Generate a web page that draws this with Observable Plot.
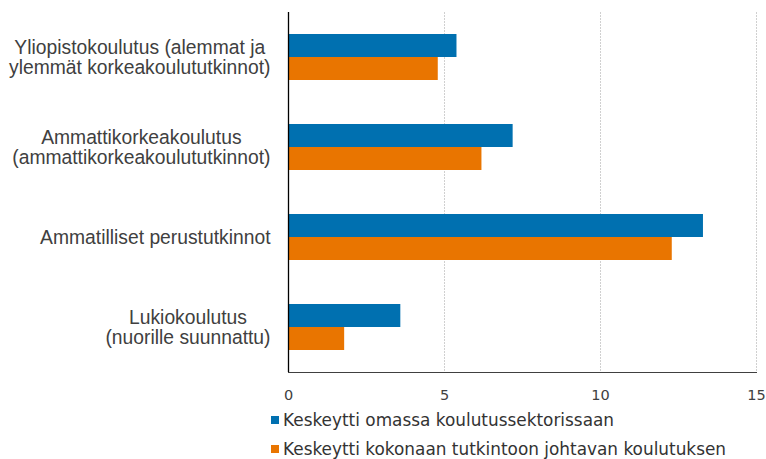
<!DOCTYPE html>
<html>
<head>
<meta charset="utf-8">
<script src="https://cdn.jsdelivr.net/npm/d3@7"></script>
<script src="https://cdn.jsdelivr.net/npm/@observablehq/plot@0.6"></script>
<style>
  body { margin: 0; background: #fff; }
  #chart { width: 766px; }
  .legend { font-family: "DejaVu Sans", sans-serif; font-size: 16.9px; color: #333; padding-left: 271px; }
  .legend div { height: 29px; display: flex; align-items: center; white-space: nowrap; }
  .legend span.sw { display: inline-block; width: 8px; height: 8px; margin-right: 4px; flex: none; }
</style>
</head>
<body>
<div id="chart"></div>
<script>
const categories = [
  "Yliopistokoulutus (alemmat ja ylemmät korkeakoulututkinnot)",
  "Ammattikorkeakoulutus (ammattikorkeakoulututkinnot)",
  "Ammatilliset perustutkinnot",
  "Lukiokoulutus (nuorille suunnattu)"
];
const categoryLabels = [
  "Yliopistokoulutus (alemmat ja\nylemmät korkeakoulututkinnot)",
  "Ammattikorkeakoulutus\n(ammattikorkeakoulututkinnot)",
  "Ammatilliset perustutkinnot",
  "Lukiokoulutus\n(nuorille suunnattu)"
];
const seriesNames = [
  "Keskeytti omassa koulutussektorissaan",
  "Keskeytti kokonaan tutkintoon johtavan koulutuksen"
];
const omassa = [5.4, 7.2, 13.3, 3.6];
const kokonaan = [4.8, 6.2, 12.3, 1.8];
const xTicks = [0, 5, 10, 15];
const colors = ["#0070b0", "#e97500"];

const dataA = categories.map((c, i) => ({category: c, value: omassa[i]}));
const dataB = categories.map((c, i) => ({category: c, value: kokonaan[i]}));

const labelSize = 19.3;
const ctx = document.createElement("canvas").getContext("2d");
ctx.font = labelSize + "px 'Liberation Sans'";
function blockWidth(s) { return Math.max(...s.split("\n").map(l => ctx.measureText(l).width)); }

const labelMarks = categories.map((c, i) => Plot.text([c], {
  y: d => d,
  text: () => categoryLabels[i],
  frameAnchor: "left",
  textAnchor: "middle",
  lineAnchor: "middle",
  lineHeight: 1.07,
  dx: -(18 + blockWidth(categoryLabels[i]) / 2),
  fontFamily: "Liberation Sans",
  fontSize: labelSize,
  fill: "#404040"
}));

const plot = Plot.plot({
  width: 766,
  height: 405,
  marginLeft: 288,
  marginRight: 10,
  marginTop: 12,
  marginBottom: 33,
  style: { fontFamily: "DejaVu Sans", fontSize: "14.5px", color: "#404040", background: "#fff" },
  x: { domain: [0, 15], ticks: xTicks, tickSize: 0, tickPadding: 17, line: true, label: null },
  y: { domain: categories, padding: 0, axis: null },
  marks: [
    Plot.ruleX(xTicks.slice(1), { stroke: "#d0d0d0", strokeDasharray: "2,1" }),
    Plot.barX(dataA, { x: "value", y: "category", fill: colors[0], insetTop: 22, insetBottom: 45 }),
    Plot.barX(dataB, { x: "value", y: "category", fill: colors[1], insetTop: 45, insetBottom: 22 }),
    Plot.ruleX([0], { stroke: "#000", strokeWidth: 1.3 }),
    ...labelMarks
  ]
});
document.getElementById("chart").appendChild(plot);

const legend = document.createElement("div");
legend.className = "legend";
seriesNames.forEach((name, i) => {
  const row = document.createElement("div");
  const sw = document.createElement("span");
  sw.className = "sw";
  sw.style.background = colors[i];
  row.appendChild(sw);
  row.appendChild(document.createTextNode(name));
  legend.appendChild(row);
});
document.getElementById("chart").appendChild(legend);
</script>
</body>
</html>
